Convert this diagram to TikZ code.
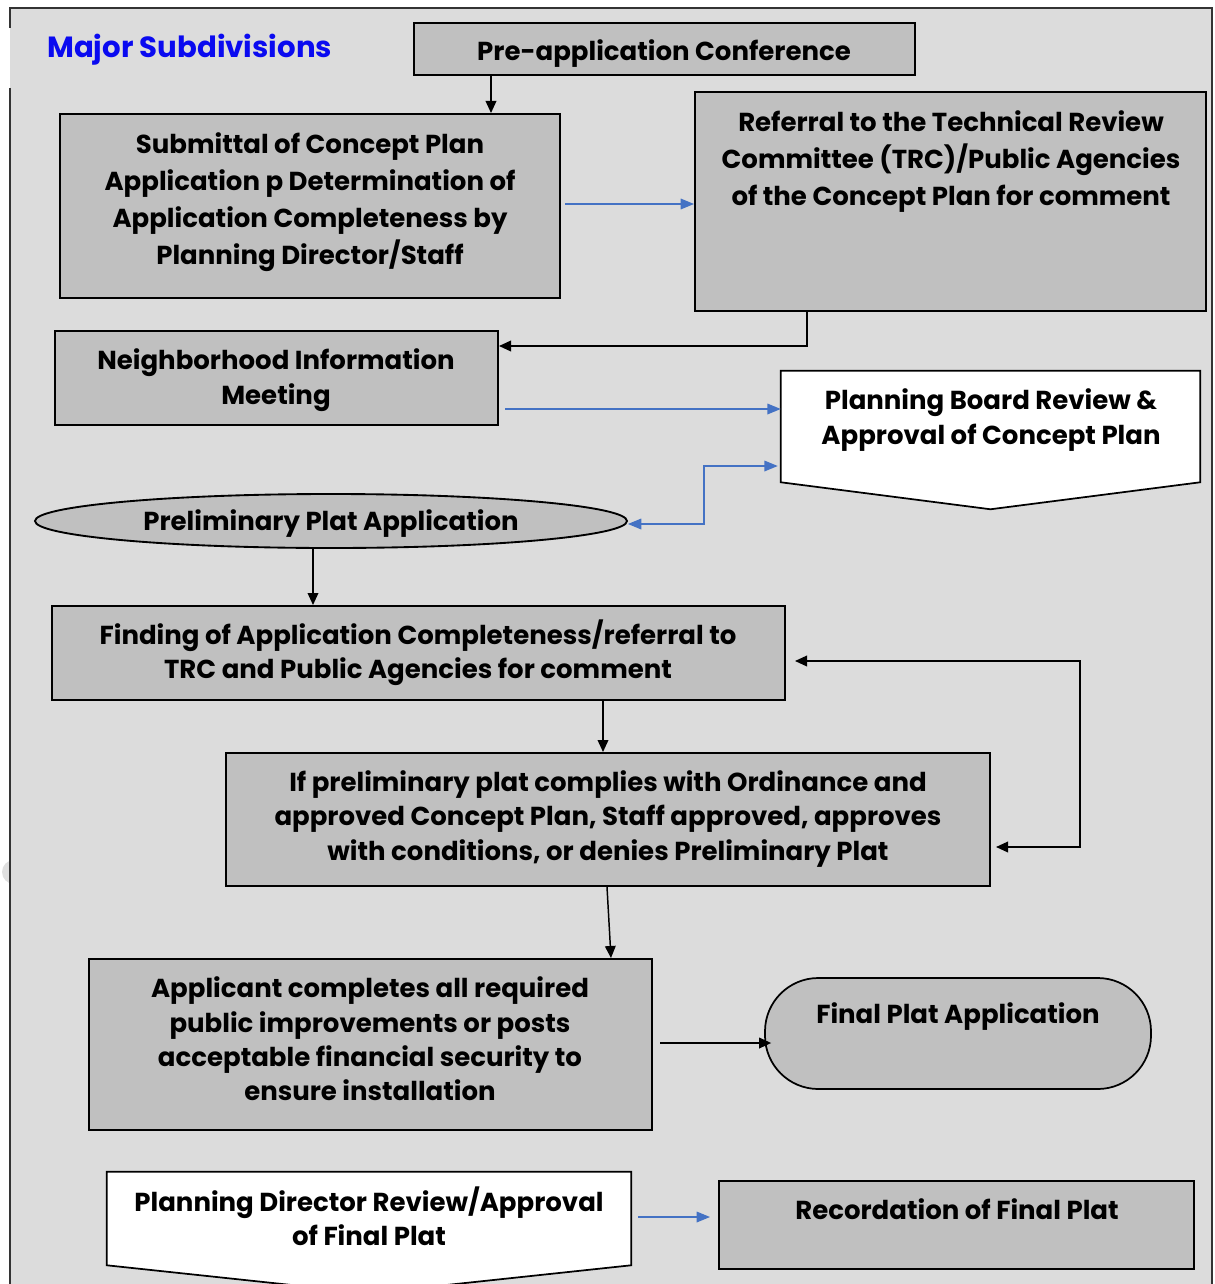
\documentclass[tikz,border=0pt]{standalone}
\usepackage{fontspec}
\setmainfont{Poppins}
\usetikzlibrary{arrows.meta,fit,calc,shapes.geometric}
\definecolor{panel}{HTML}{DCDCDC}
\definecolor{boxgray}{HTML}{C0C0C0}
\definecolor{flowblue}{HTML}{4472C4}
\definecolor{titleblue}{HTML}{0A0AF0}
\tikzset{
  stepbox/.style={draw=black, fill=boxgray, line width=1.5pt, inner sep=0pt},
  termbox/.style={draw=black, fill=white, line width=1.3pt, line join=miter},
  lbl/.style={align=center, font=\bfseries\fontsize{19.5}{26}\selectfont, inner sep=0pt},
  karr/.style={draw=black, line width=1.1pt, -{Triangle[length=9pt,width=8pt]}},
  karrboth/.style={draw=black, line width=1.1pt, {Triangle[length=9pt,width=8pt]}-{Triangle[length=9pt,width=8pt]}},
  barr/.style={draw=flowblue, line width=0.9pt, -{Triangle[length=10pt,width=8pt]}},
  barrboth/.style={draw=flowblue, line width=0.9pt, {Triangle[length=10pt,width=8pt]}-{Triangle[length=10pt,width=8pt]}},
}
\begin{document}
\begin{tikzpicture}[x=0.75pt,y=-0.75pt]
\useasboundingbox (0,0) rectangle (1214,1284);
\clip (0,0) rectangle (1214,1284);
% faint mark at the left margin
\fill[gray!25] (14,872) circle (12);
% background panel
\fill[panel] (10,8) rectangle (1212,1300);
\draw[line width=1.5pt, draw=black!80] (10,28) -- (10,8) -- (1212,8) -- (1212,1300);
\draw[line width=1.5pt, draw=black!80] (10,88) -- (10,1300);

\node[anchor=west, text=titleblue, font=\bfseries\fontsize{21.9}{24}\selectfont, inner sep=0pt] (title) at (47,50) {Major Subdivisions};

% process boxes
\node[stepbox, fit={(414,23) (915,75)}] (pre) {};
\node[lbl] (prel) at (664,54) {Pre-application Conference};

\node[stepbox, fit={(60,114) (560,298)}] (sub) {};
\node[lbl, font=\bfseries\fontsize{19.5}{27.8}\selectfont] (subl) at (310,202) {Submittal of Concept Plan\\Application p Determination of\\Application Completeness by\\Planning Director/Staff};

\node[stepbox, fit={(695,92) (1206,311)}] (ref) {};
\node[lbl, anchor=north, font=\bfseries\fontsize{19.5}{27.8}\selectfont] (refl) at (951,110) {Referral to the Technical Review\\Committee (TRC)/Public Agencies\\of the Concept Plan for comment};

\node[stepbox, fit={(55,331) (498,425)}] (nb) {};
\node[lbl] (nbl) at (276,380) {Neighborhood Information\\Meeting};

% concept plan review (off-page style shape)
\node[fit={(781,371) (1200,482)}, inner sep=0pt] (pb) {};
\draw[termbox] (pb.north west) -- (pb.north east) -- (pb.south east) -- ($(pb.south)+(0,27)$) -- (pb.south west) -- cycle;
\node[lbl] (pbl) at (991,420) {Planning Board Review \&\\Approval of Concept Plan};

\node[ellipse, draw=black, fill=boxgray, line width=1.4pt, minimum width=444pt, minimum height=40.5pt, inner sep=0pt] (ppa) at (331,521) {};
\node[lbl] (ppal) at (331,524) {Preliminary Plat Application};

\node[stepbox, fit={(52,606) (785,700)}] (find) {};
\node[lbl, font=\bfseries\fontsize{19.5}{25.5}\selectfont] (findl) at (418,653) {Finding of Application Completeness/referral to\\TRC and Public Agencies for comment};

\node[stepbox, fit={(226,753) (990,886)}] (ifb) {};
\node[lbl] (ifbl) at (608,819) {If preliminary plat complies with Ordinance and\\approved Concept Plan, Staff approved, approves\\with conditions, or denies Preliminary Plat};

\node[stepbox, fit={(89,959) (652,1130)}] (app) {};
\node[lbl, font=\bfseries\fontsize{19.5}{25.8}\selectfont] (appl) at (370,1039) {Applicant completes all required\\public improvements or posts\\acceptable financial security to\\ensure installation};

\node[stepbox, fit={(765,978) (1151,1089)}, rounded corners=40pt, line width=1.3pt] (fpa) {};
\node[lbl] (fpal) at (958,1017) {Final Plat Application};

\node[fit={(107,1172) (631,1265)}, inner sep=0pt] (pd) {};
\draw[termbox] (pd.north west) -- (pd.north east) -- (pd.south east) -- ($(pd.south)+(0,28)$) -- (pd.south west) -- cycle;
\node[lbl, font=\bfseries\fontsize{19.5}{25.5}\selectfont] (pdl) at (369,1216) {Planning Director Review/Approval\\of Final Plat};

\node[stepbox, fit={(719,1181) (1194,1269)}] (rec) {};
\node[lbl] (recl) at (957,1209) {Recordation of Final Plat};

% connectors
\coordinate (c1) at (491,0);
\draw[karr] (pre.south -| c1) -- (sub.north -| c1);

\coordinate (c2) at (565,204);
\draw[barr] (c2) -- (c2 -| ref.west);

\coordinate (c3) at (807,346);
\draw[karr] (ref.south -| c3) -- (c3) -- (c3 -| nb.east);

\coordinate (c4) at (505,409);
\draw[barr] (c4) -- (c4 -| pb.west);

\coordinate (c5) at (704,524);
\coordinate (c6) at (704,466);
\draw[barrboth] (c5 -| ppa.east) -- (c5) -- (c6) -- ($(c6 -| pb.west)+(-3,0)$);

\coordinate (c7) at (313,0);
\draw[karr] (ppa.south -| c7) -- (find.north -| c7);

\coordinate (c8) at (603,0);
\draw[karr] (find.south -| c8) -- (ifb.north -| c8);

\coordinate (c9) at (1080,661);
\coordinate (c10) at (1080,847);
\draw[karrboth] ($(c9 -| find.east)+(9,0)$) -- (c9) -- (c10) -- ($(c10 -| ifb.east)+(5,0)$);

\coordinate (c11) at (607,0);
\coordinate (c12) at (611,0);
\draw[karr] (ifb.south -| c11) -- (app.north -| c12);

\coordinate (c13) at (660,1043);
\draw[karr] (c13) -- ($(c13 -| fpa.west)+(7,0)$);

\coordinate (c14) at (638,1217);
\draw[barr] (c14) -- ($(c14 -| rec.west)+(-8,0)$);
\end{tikzpicture}
\end{document}
